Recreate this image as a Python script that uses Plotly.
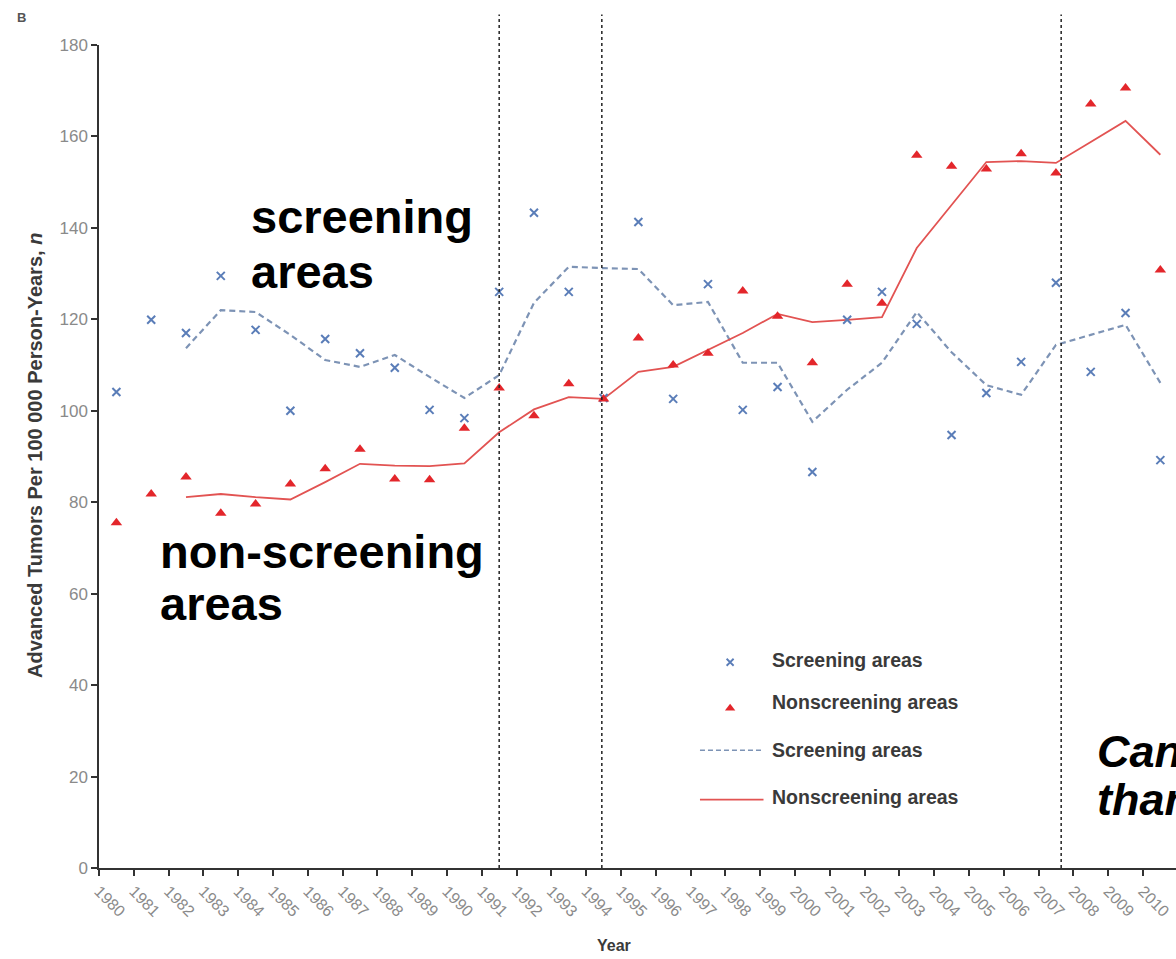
import plotly.graph_objects as go

# Annual rates of advanced tumours per 100 000 person-years, 1980-2010
years = list(range(1980, 2011))

screening_obs = [104.1, 119.9, 117.0, 129.5, 117.7, 100.0, 115.7, 112.6, 109.4, 100.2,
                 98.4, 126.0, 143.3, 126.0, 102.8, 141.3, 102.6, 127.7, 100.2, 105.2,
                 86.6, 119.9, 126.0, 119.0, 94.7, 103.9, 110.7, 128.0, 108.5, 121.4,
                 89.2]
nonscreening_obs = [75.5, 81.8, 85.5, 77.6, 79.6, 84.0, 87.3, 91.6, 85.1, 84.9,
                    96.2, 105.0, 98.9, 105.9, 102.6, 115.9, 110.0, 112.6, 126.2, 120.7,
                    110.5, 127.7, 123.5, 155.9, 153.5, 152.9, 156.2, 152.0, 167.1, 170.6,
                    130.8]

# Smoothed trends (first two years have no value)
screening_trend = [None, None, 113.7, 122.0, 121.6, 116.6, 111.1, 109.6, 112.2, 107.4,
                   102.8, 107.8, 123.6, 131.5, 131.2, 131.0, 123.1, 123.8, 110.5, 110.5,
                   97.6, 104.6, 110.5, 121.6, 112.8, 105.6, 103.5, 114.4, 116.6, 118.8,
                   106.1]
nonscreening_trend = [None, None, 81.1, 81.8, 81.1, 80.6, 84.4, 88.4, 88.0, 87.9,
                      88.5, 95.3, 100.3, 103.0, 102.6, 108.5, 109.6, 113.3, 117.0, 121.2,
                      119.4, 119.9, 120.5, 135.6, 145.0, 154.4, 154.6, 154.2, 158.8, 163.4,
                      156.0]

# Policy milestones marked with vertical lines
milestones = [1991.5, 1994.45, 2007.65]

y_ticks = list(range(0, 181, 20))
x_tick_labels = [str(y) for y in years]

BLUE_MK = "#5a7db8"
BLUE_LN = "#7d93b5"
RED_MK = "#e3262b"
RED_LN = "#e25352"
AXIS = "#333333"
TICKTXT = "#8a8a8a"
TXT = "#3a3a3a"
FONT = "Liberation Sans"

# rates are plotted at mid-year
xmid = [y + 0.5 for y in years]

fig = go.Figure()

fig.add_trace(go.Scatter(x=xmid, y=screening_trend, mode="lines",
                         line=dict(color=BLUE_LN, width=2.2, dash="6px,4px"),
                         name="Screening areas", showlegend=False))
fig.add_trace(go.Scatter(x=xmid, y=nonscreening_trend, mode="lines",
                         line=dict(color=RED_LN, width=1.8),
                         name="Nonscreening areas", showlegend=False))
fig.add_trace(go.Scatter(x=xmid, y=screening_obs, mode="markers",
                         marker=dict(symbol="x-thin", size=8,
                                     line=dict(width=2, color=BLUE_MK)),
                         name="Screening areas", showlegend=False))
fig.add_trace(go.Scatter(x=xmid, y=nonscreening_obs, mode="markers",
                         marker=dict(symbol="triangle-up", size=10, color=RED_MK),
                         name="Nonscreening areas", showlegend=False))

# Key drawn on an overlay axis pair spanning the plot area in [0, 1] units
key_x_mark = 0.586
key_line = [0.558, 0.617]
key_text_x = 0.623
fig.add_trace(go.Scatter(x=[key_x_mark], y=[0.250], mode="markers", xaxis="x2", yaxis="y2",
                         marker=dict(symbol="x-thin", size=7, line=dict(width=1.8, color=BLUE_MK)),
                         showlegend=False, hoverinfo="skip"))
fig.add_trace(go.Scatter(x=[key_x_mark], y=[0.194], mode="markers", xaxis="x2", yaxis="y2",
                         marker=dict(symbol="triangle-up", size=9, color=RED_MK),
                         showlegend=False, hoverinfo="skip"))
fig.add_trace(go.Scatter(x=key_line, y=[0.143, 0.143], mode="lines", xaxis="x2", yaxis="y2",
                         line=dict(color=BLUE_LN, width=1.6, dash="5px,3px"),
                         showlegend=False, hoverinfo="skip"))
fig.add_trace(go.Scatter(x=key_line, y=[0.083, 0.083], mode="lines", xaxis="x2", yaxis="y2",
                         line=dict(color=RED_LN, width=1.8),
                         showlegend=False, hoverinfo="skip"))

key_labels = [("Screening areas", 0.253), ("Nonscreening areas", 0.202),
              ("Screening areas", 0.143), ("Nonscreening areas", 0.086)]

annotations = []
for label, ky in key_labels:
    annotations.append(dict(x=key_text_x, y=ky, xref="paper", yref="paper",
                            text=label, showarrow=False, xanchor="left", yanchor="middle",
                            font=dict(family=FONT, size=19.5, color=TXT, weight="bold")))

big = dict(family=FONT, size=47, color="#000000", weight="bold")
for text, ax, ay in [("screening", 0.139, 0.792), ("areas", 0.139, 0.725),
                     ("non-screening", 0.0545, 0.385), ("areas", 0.0545, 0.321)]:
    annotations.append(dict(x=ax, y=ay, xref="paper", yref="paper", text=text,
                            showarrow=False, xanchor="left", yanchor="middle", font=big))

big_it = dict(family=FONT, size=45, color="#000000", weight="bold", style="italic")
for text, ax, ay in [("Can", 0.925, 0.141), ("than", 0.925, 0.083)]:
    annotations.append(dict(x=ax, y=ay, xref="paper", yref="paper", text=text,
                            showarrow=False, xanchor="left", yanchor="middle", font=big_it))

annotations.append(dict(x=-0.0594, y=0.5006, xref="paper", yref="paper",
                        text="Advanced Tumors Per 100 000 Person-Years, <i>n</i>",
                        textangle=-90, showarrow=False, xanchor="center", yanchor="middle",
                        font=dict(family=FONT, size=20, color=TXT, weight="bold")))
annotations.append(dict(x=0.478, y=-0.0936, xref="paper", yref="paper", text="Year",
                        showarrow=False, xanchor="center", yanchor="middle",
                        font=dict(family=FONT, size=16, color=TXT, weight="bold")))
annotations.append(dict(x=-0.0715, y=1.034, xref="paper", yref="paper", text="B",
                        showarrow=False, xanchor="center", yanchor="middle",
                        font=dict(family=FONT, size=13, color="#555555", weight="bold")))

shapes = [dict(type="line", xref="x", yref="paper", x0=m, x1=m, y0=0, y1=1.037,
               line=dict(color="#222222", width=1.5, dash="dot")) for m in milestones]

fig.update_layout(
    width=1176, height=959,
    margin=dict(l=99, r=0, t=45, b=91),
    paper_bgcolor="white", plot_bgcolor="white",
    showlegend=False,
    annotations=annotations,
    shapes=shapes,
    xaxis=dict(range=[1980, 2010.95], tickmode="array", tickvals=years, ticktext=x_tick_labels,
               tickangle=45, showline=True, linecolor=AXIS, linewidth=1.5,
               ticks="outside", ticklen=6, tickcolor=AXIS, tickwidth=1.5,
               showgrid=False, zeroline=False,
               tickfont=dict(family=FONT, size=16, color=TICKTXT)),
    yaxis=dict(range=[0, 180], tickmode="array", tickvals=y_ticks,
               showline=True, linecolor=AXIS, linewidth=1.5,
               ticks="outside", ticklen=6, tickcolor=AXIS, tickwidth=1.5,
               showgrid=False, zeroline=False,
               tickfont=dict(family=FONT, size=17, color=TICKTXT)),
    xaxis2=dict(overlaying="x", range=[0, 1], visible=False),
    yaxis2=dict(overlaying="y", range=[0, 1], visible=False),
)

fig.write_html("out.html")
